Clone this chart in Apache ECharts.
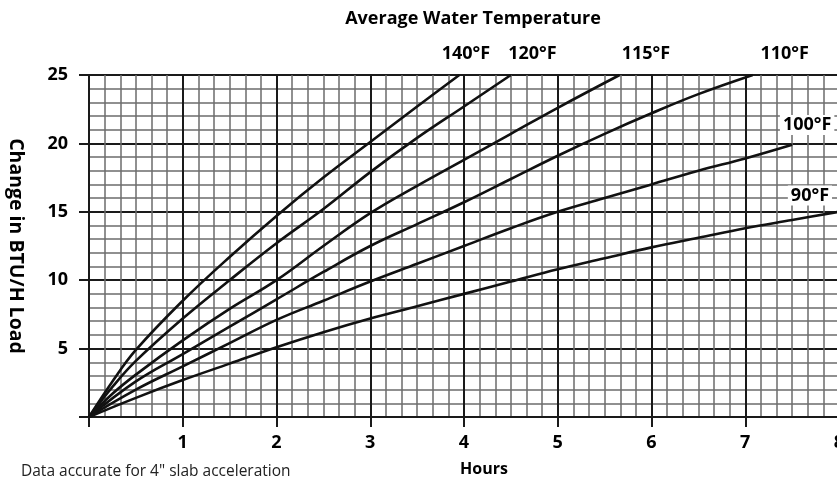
<!DOCTYPE html>
<html>
<head>
<meta charset="utf-8">
<script src="https://cdn.jsdelivr.net/npm/echarts@6/dist/echarts.min.js"></script>
<style>
  html, body { margin: 0; padding: 0; background: #fff; }
  #chart { width: 837px; height: 482px; }
</style>
</head>
<body>
<div id="chart"></div>
<script>
// Load change over time (hours) for each average water temperature.
const hourTicks = [1, 2, 3, 4, 5, 6, 7, 8];
const loadTicks = [5, 10, 15, 20, 25];

const temps = ['140°F', '120°F', '115°F', '110°F', '100°F', '90°F'];

const curve140 = [[0,0],[0.25,2.6],[0.5,4.9],[1,8.5],[1.5,11.7],[2,14.7],[2.5,17.5],[3,20.1],[3.5,22.7],[3.95,25]];
const curve120 = [[0,0],[0.25,2.2],[0.5,4.1],[1,7.2],[1.5,10],[2,12.7],[2.5,15.2],[3,17.9],[3.5,20.4],[4,22.7],[4.5,25]];
const curve115 = [[0,0],[0.25,1.7],[0.5,3.1],[1,5.6],[1.5,7.9],[2,10],[2.5,12.5],[3,14.9],[3.5,16.9],[4,18.8],[4.5,20.7],[5,22.6],[5.66,25]];
const curve110 = [[0,0],[0.5,2.6],[1,4.6],[1.5,6.6],[2,8.6],[2.5,10.6],[3,12.5],[3.5,14.1],[4,15.7],[4.5,17.4],[5,19.1],[5.5,20.7],[6,22.2],[6.5,23.6],[7.08,25]];
const curve100 = [[0,0],[0.5,2.0],[1,3.7],[1.5,5.4],[2,7.1],[2.5,8.5],[3,9.9],[3.5,11.2],[4,12.5],[4.5,13.8],[5,15],[5.5,16],[6,17],[6.5,18],[7,18.9],[7.5,19.9]];
const curve90  = [[0,0],[0.5,1.4],[1,2.7],[1.5,3.9],[2,5.1],[2.5,6.2],[3,7.2],[3.5,8.1],[4,9.0],[4.5,9.9],[5,10.8],[5.5,11.6],[6,12.4],[6.5,13.1],[7,13.8],[7.5,14.4],[8,15]];

const curves = [curve140, curve120, curve115, curve110, curve100, curve90];

// Anchor of each temperature tag in (hours, load) units, plus a pixel nudge.
const tagSpots = [[4.02, 25], [4.73, 25], [5.94, 25], [7.42, 25], [7.66, 21.35], [7.69, 16.2]];
const tagNudge = [[0, -21], [0, -21], [0, -21], [0, -21], [0, 0], [0, 0]];
const tagBoxed = [false, false, false, false, true, true];

const FONT = '"Open Sans", "Noto Sans", sans-serif';
const DARK = '#1a1a1a';

const chart = echarts.init(document.getElementById('chart'), null, { renderer: 'canvas' });

const series = curves.map((pts, i) => ({
  name: temps[i],
  type: 'line',
  data: pts,
  smooth: 0.4,
  symbol: 'none',
  clip: true,
  lineStyle: { color: '#111', width: 2.6 },
  z: 5,
  markPoint: {
    symbol: 'rect',
    symbolSize: 0,
    silent: true,
    data: [{ coord: tagSpots[i], value: temps[i] }],
    label: {
      show: true,
      position: 'inside',
      offset: tagNudge[i],
      formatter: temps[i],
      color: '#000',
      fontFamily: FONT,
      fontWeight: 'bold',
      fontSize: 18,
      backgroundColor: tagBoxed[i] ? '#fff' : 'transparent',
      padding: tagBoxed[i] ? [1, 3, 1, 3] : 0
    }
  }
}));

chart.setOption({
  animation: false,
  backgroundColor: '#fff',
  title: [
    {
      text: 'Average Water Temperature',
      left: 468, top: 5, textAlign: 'center',
      textStyle: { fontFamily: FONT, fontWeight: 'bold', fontSize: 18, color: '#000' }
    },
    {
      text: 'Data accurate for 4" slab acceleration',
      left: 16, top: 459,
      textStyle: { fontFamily: FONT, fontWeight: 'normal', fontSize: 15.5, color: '#222' }
    }
  ],
  grid: { left: 89, top: 75, width: 750, height: 342, containLabel: false, outerBoundsMode: 'none' },
  xAxis: {
    type: 'value',
    min: 0, max: 8, interval: 1,
    name: 'Hours',
    nameLocation: 'middle',
    nameGap: 44,
    nameTextStyle: { fontFamily: FONT, fontWeight: 'bold', fontSize: 16, color: '#000', padding: [0, 0, 0, 40] },
    axisLine: { show: true, lineStyle: { color: DARK, width: 2 } },
    axisTick: { show: true, length: 10, lineStyle: { color: DARK, width: 2 } },
    axisLabel: {
      margin: 17,
      fontFamily: FONT, fontWeight: 'bold', fontSize: 18, color: '#000',
      formatter: v => (hourTicks.indexOf(v) >= 0 ? String(v) : '')
    },
    splitLine: { show: true, lineStyle: { color: DARK, width: 2 } },
    minorTick: { show: false, splitNumber: 6 },
    minorSplitLine: { show: true, lineStyle: { color: '#6c6c6c', width: 1.5 } }
  },
  yAxis: {
    type: 'value',
    min: 0, max: 25, interval: 5,
    name: 'Change in BTU/H Load',
    nameLocation: 'middle',
    nameRotate: -90,
    nameGap: 63,
    nameTextStyle: { fontFamily: FONT, fontWeight: 'bold', fontSize: 19.5, color: '#000' },
    axisLine: { show: true, lineStyle: { color: DARK, width: 2 } },
    axisTick: { show: true, length: 10, lineStyle: { color: DARK, width: 2 } },
    axisLabel: {
      margin: 21,
      fontFamily: FONT, fontWeight: 'bold', fontSize: 18, color: '#000',
      formatter: v => (loadTicks.indexOf(v) >= 0 ? String(v) : '')
    },
    splitLine: { show: true, lineStyle: { color: DARK, width: 2 } },
    minorTick: { show: false, splitNumber: 5 },
    minorSplitLine: { show: true, lineStyle: { color: '#6c6c6c', width: 1.5 } }
  },
  series: series
});
</script>
</body>
</html>
